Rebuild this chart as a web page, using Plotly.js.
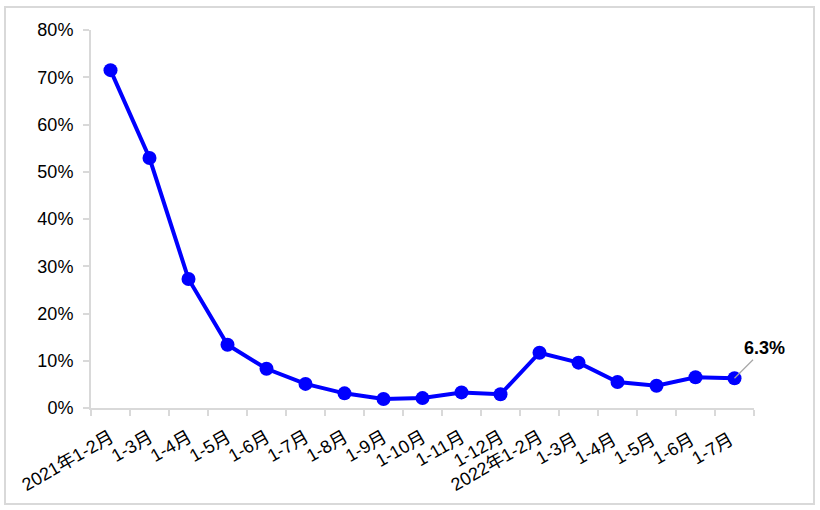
<!DOCTYPE html>
<html>
<head>
<meta charset="utf-8">
<script src="https://cdn.plot.ly/plotly-3.0.1.min.js"></script>
<style>
html,body{margin:0;padding:0;background:#fff;}
#wrap{position:relative;width:820px;height:510px;}
#chart{position:absolute;left:0;top:0;width:820px;height:510px;}
#frame{position:absolute;left:4px;top:6px;width:807px;height:495px;border:2px solid #d9d9d9;pointer-events:none;}
</style>
</head>
<body>
<div id="wrap"><div id="chart"></div><div id="frame"></div></div>
<script>
var categories = ["2021年1-2月","1-3月","1-4月","1-5月","1-6月","1-7月","1-8月","1-9月","1-10月","1-11月","1-12月","2022年1-2月","1-3月 ","1-4月 ","1-5月 ","1-6月 ","1-7月 "];
var values = [71.5, 52.9, 27.3, 13.4, 8.3, 5.1, 3.1, 1.9, 2.1, 3.3, 2.9, 11.7, 9.6, 5.5, 4.7, 6.5, 6.3];
var yTicks = [0,10,20,30,40,50,60,70,80];
var lastLabel = values[values.length-1].toFixed(1) + "%";

var font = "Arial, 'Liberation Sans', 'Noto Sans CJK SC', sans-serif";

var trace = {
  x: categories,
  y: values,
  type: "scatter",
  mode: "lines+markers",
  line: {color: "#0000ff", width: 4},
  marker: {color: "#0000ff", size: 14},
  cliponaxis: false,
  hoverinfo: "skip"
};

var layout = {
  width: 820, height: 510,
  margin: {l: 91, r: 66, t: 30, b: 102},
  paper_bgcolor: "#ffffff",
  plot_bgcolor: "#ffffff",
  showlegend: false,
  font: {family: font, color: "#000000"},
  xaxis: {
    type: "category",
    range: [-0.5, categories.length - 0.5],
    showgrid: false,
    zeroline: false,
    showline: true,
    linecolor: "#d9d9d9",
    linewidth: 2,
    ticks: "outside",
    tickson: "boundaries",
    ticklen: 6,
    tickcolor: "#d9d9d9",
    tickwidth: 2,
    tickangle: -30,
    ticklabelstandoff: 10,
    tickfont: {size: 18, family: font, color: "#000"},
    fixedrange: true
  },
  yaxis: {
    range: [0, 80],
    tickvals: yTicks,
    ticktext: yTicks.map(function(v){return v + "%";}),
    showgrid: false,
    zeroline: false,
    showline: true,
    linecolor: "#d9d9d9",
    linewidth: 2,
    ticks: "outside",
    ticklen: 6,
    tickcolor: "#d9d9d9",
    tickwidth: 2,
    ticklabelstandoff: 6,
    tickfont: {size: 18, family: font, color: "#000"},
    fixedrange: true
  },
  annotations: [{
    x: categories[categories.length-1],
    y: values[values.length-1],
    xref: "x", yref: "y",
    text: "<b>" + lastLabel + "</b>",
    showarrow: true,
    arrowhead: 0,
    arrowwidth: 1.2,
    arrowcolor: "#a6a6a6",
    ax: 30, ay: -30,
    font: {size: 18, family: font, color: "#000"}
  }]
};

Plotly.newPlot("chart", [trace], layout, {displayModeBar: false, staticPlot: true});
</script>
</body>
</html>
